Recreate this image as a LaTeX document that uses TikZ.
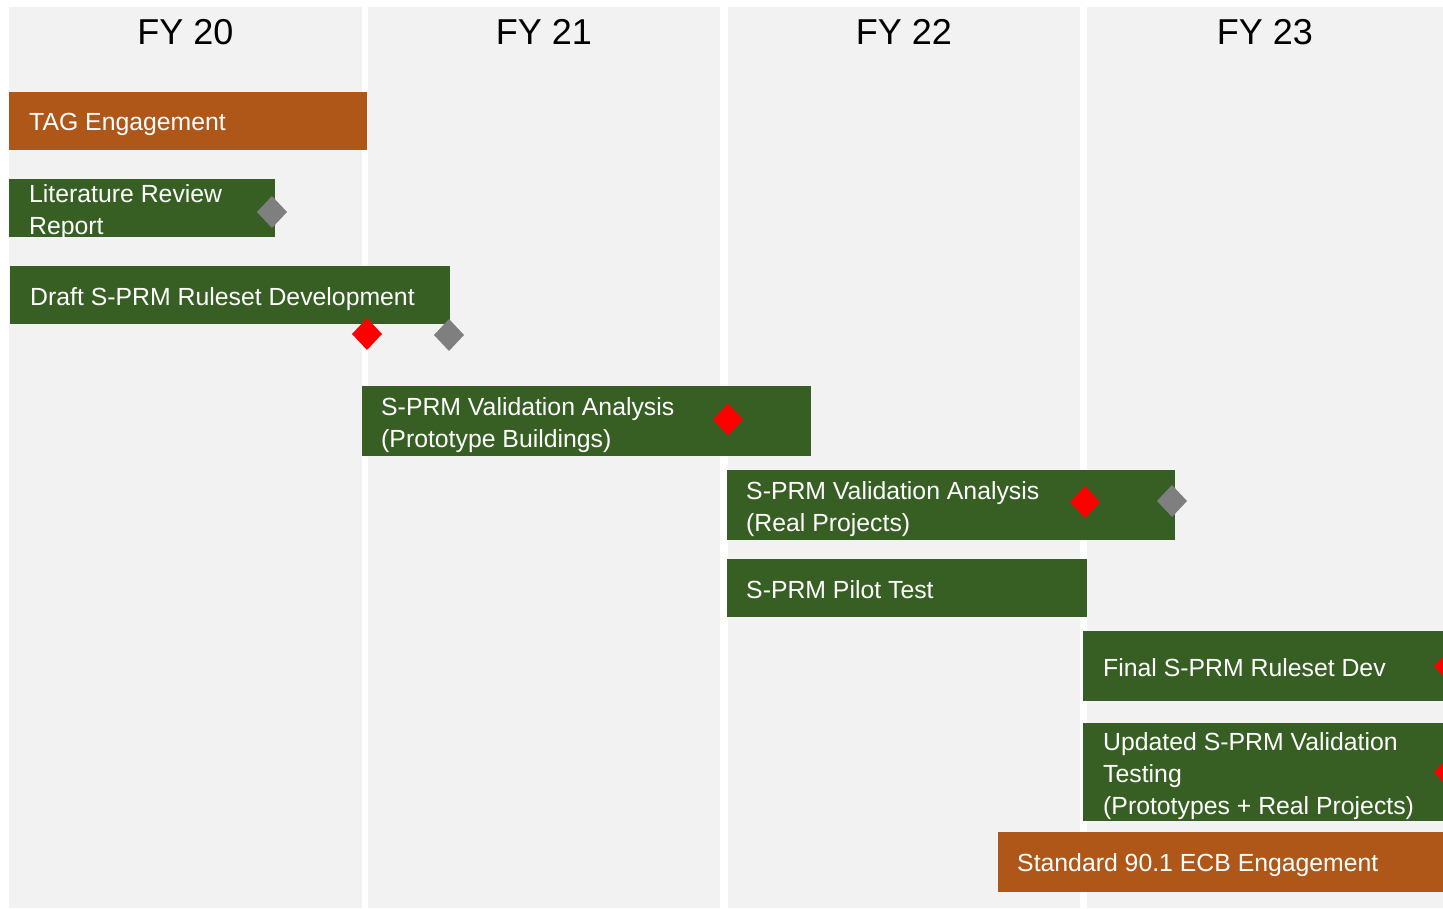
\documentclass[tikz,border=0pt]{standalone}
\usepackage{fontspec}
\setmainfont{Liberation Sans}
\definecolor{colbg}{HTML}{F2F2F2}
\definecolor{bargreen}{HTML}{375F24}
\definecolor{barorange}{HTML}{AF5619}
\definecolor{msgray}{HTML}{7F7F7F}
\definecolor{msred}{HTML}{FF0000}
\begin{document}
\begin{tikzpicture}[x=1pt,y=-1pt,
  colbox/.style={fill=colbg},
  hdr/.style={font=\fontsize{36}{40}\selectfont, text=black, inner sep=0pt},
  barlabel/.style={anchor=west, align=left, text=white, inner sep=0pt,
    font=\fontsize{24.8}{32}\selectfont},
  greenbar/.style={fill=bargreen},
  orangebar/.style={fill=barorange},
  msmark/.pic={\fill[pic actions] (-15,0) -- (0,-16) -- (15,0) -- (0,16) -- cycle;}
]
\useasboundingbox (0,0) rectangle (1443,908);
\fill[white] (0,0) rectangle (1443,908);
% columns
\fill[colbox] (9,7) rectangle (362,908);
\fill[colbox] (368,7) rectangle (720,908);
\fill[colbox] (728,7) rectangle (1080,908);
\fill[colbox] (1087,7) rectangle (1443,908);
\node[hdr] (h20) at (185.5,32) {FY 20};
\node[hdr] (h21) at (544,32) {FY 21};
\node[hdr] (h22) at (904,32) {FY 22};
\node[hdr] (h23) at (1265,32) {FY 23};
% bars
\fill[orangebar] (9,92) rectangle (367,150);
\node[barlabel] (tag) at (29,124) {TAG Engagement};
\fill[greenbar] (9,179) rectangle (275,237);
\node[barlabel] (lit) at (29,212) {Literature Review\\Report};
\fill[greenbar] (10,266) rectangle (450,324);
\node[barlabel] (draft) at (30,299) {Draft S-PRM Ruleset Development};
\fill[greenbar] (362,386) rectangle (811,456);
\node[barlabel] (valproto) at (381,425) {S-PRM Validation Analysis\\(Prototype Buildings)};
\fill[greenbar] (727,470) rectangle (1175,540);
\node[barlabel] (valreal) at (746,509) {S-PRM Validation Analysis\\(Real Projects)};
\fill[greenbar] (727,559) rectangle (1087,617);
\node[barlabel] (pilot) at (746,590) {S-PRM Pilot Test};
\fill[greenbar] (1083,631) rectangle (1443,701);
\node[barlabel] (final) at (1103,668) {Final S-PRM Ruleset Dev};
\fill[greenbar] (1083,723) rectangle (1443,821);
\node[barlabel] (updated) at (1103,776) {Updated S-PRM Validation\\Testing\\(Prototypes + Real Projects)};
\fill[orangebar] (998,832) rectangle (1443,892);
\node[barlabel] (ecb) at (1017,865) {Standard 90.1 ECB Engagement};
% milestones
\pic[fill=msgray] at (272,212) {msmark};
\pic[fill=msred] at (367,334) {msmark};
\pic[fill=msgray] at (449,335) {msmark};
\pic[fill=msred] at (728,419.5) {msmark};
\pic[fill=msred] at (1085,502) {msmark};
\pic[fill=msgray] at (1172,501) {msmark};
\pic[fill=msred] at (1449,666) {msmark};
\pic[fill=msred] at (1449,772) {msmark};
\end{tikzpicture}
\end{document}
